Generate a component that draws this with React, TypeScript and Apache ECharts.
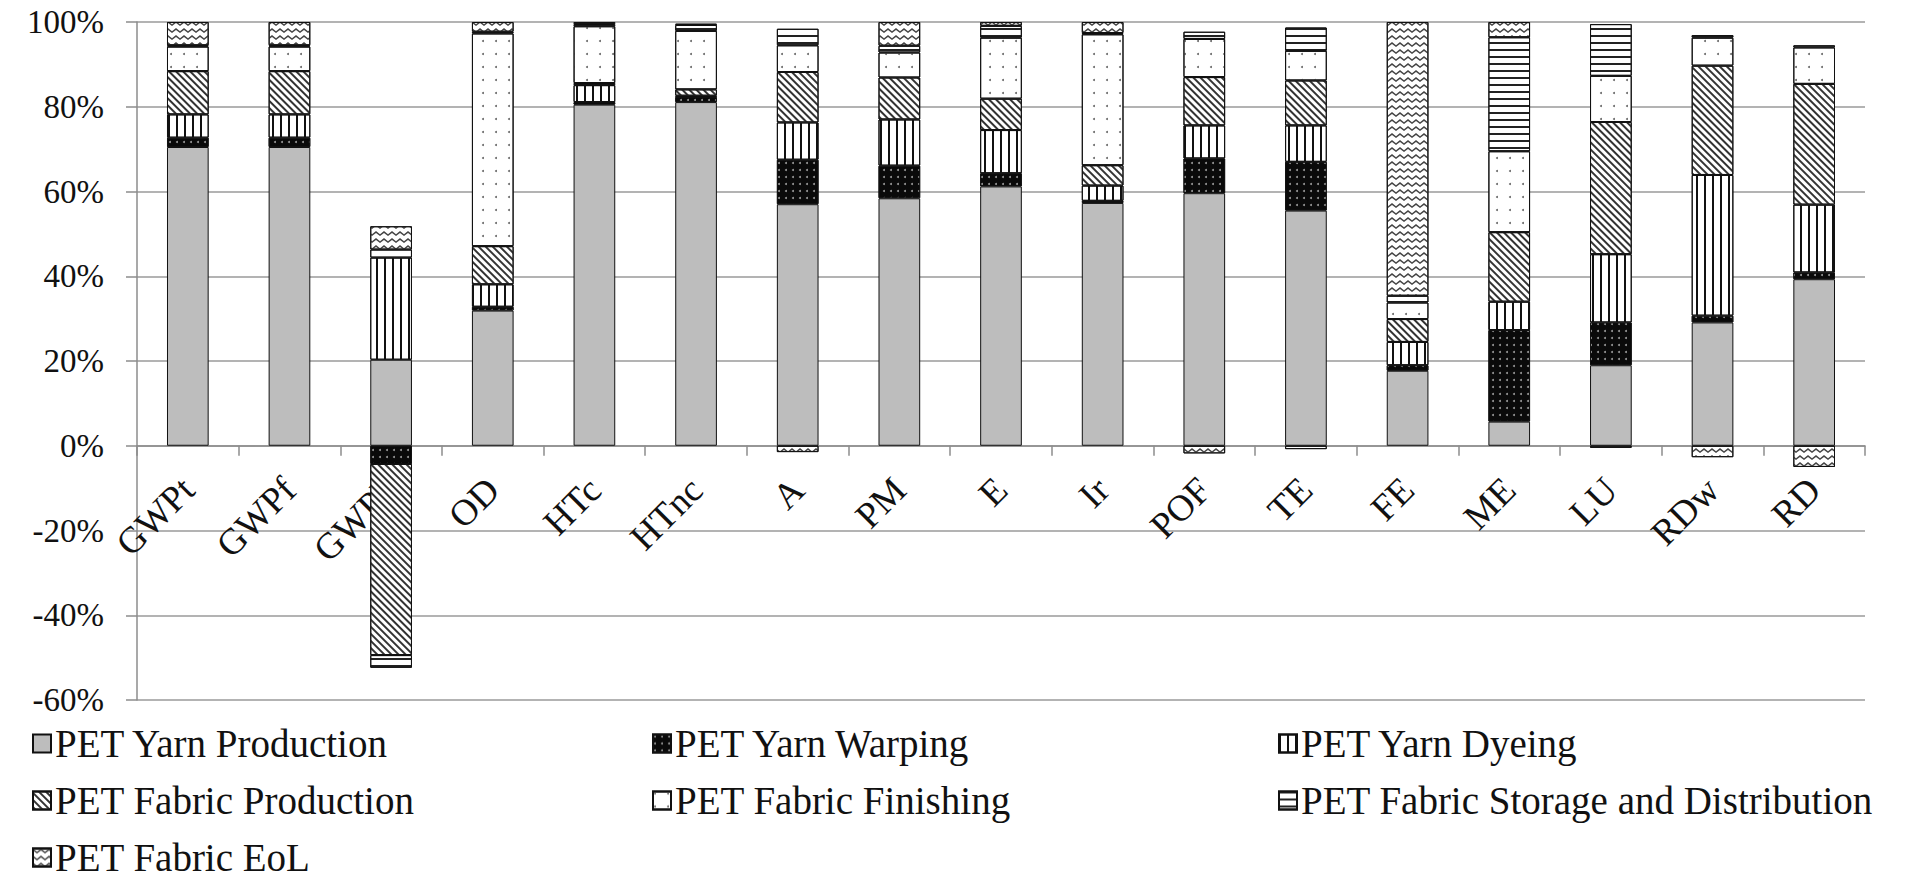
import React, { useEffect, useRef } from "react";
import * as echarts from "echarts";

const categories = ["GWPt", "GWPf", "GWPb", "OD", "HTc", "HTnc", "A", "PM", "E", "Ir", "POF", "TE", "FE", "ME", "LU", "RDw", "RD"];

const yarnProduction = [70.5, 70.5, 20.3, 31.9, 80.5, 81.1, 57.0, 58.4, 61.2, 57.3, 59.6, 55.5, 17.7, 5.7, 19.0, 29.1, 39.3];
const yarnWarping = [2.2, 2.2, -4.3, 0.9, 0.6, 1.2, 10.5, 7.7, 3.1, 0.5, 8.2, 11.5, 1.3, 21.6, 10.1, 1.6, 1.6];
const yarnDyeing = [5.5, 5.5, 24.1, 5.3, 4.0, 0.3, 8.8, 10.9, 10.2, 3.6, 7.8, 8.6, 5.5, 6.7, 16.1, 33.2, 16.0];
const fabricProduction = [10.2, 10.2, -45.1, 9.0, 0.5, 1.5, 11.9, 9.9, 7.4, 4.8, 11.4, 10.6, 5.4, 16.4, 31.2, 25.8, 28.5];
const fabricFinishing = [5.8, 5.8, 1.9, 50.2, 13.4, 13.8, 6.3, 5.9, 14.4, 30.9, 9.0, 7.0, 3.9, 19.1, 10.9, 6.6, 8.6];
const fabricStorage = [0.3, 0.3, -3.0, 0.4, 0.5, 1.4, 3.9, 1.6, 2.8, 0.3, 1.7, 5.5, 1.6, 26.9, 12.2, 0.6, 0.5];
const fabricEoL = [5.5, 5.5, 5.5, 2.3, 0.5, 0.3, -1.5, 5.6, 0.9, 2.6, -1.8, -0.8, 64.6, 3.6, -0.5, -2.7, -5.0];

const seriesNames = [
  "PET Yarn Production",
  "PET Yarn Warping",
  "PET Yarn Dyeing",
  "PET Fabric Production",
  "PET Fabric Finishing",
  "PET Fabric Storage and Distribution",
  "PET Fabric EoL",
];

const yTicks = { min: -60, max: 100, interval: 20 };

const FONT = "Liberation Serif";

function decal(o: any) {
  return {
    symbol: "rect",
    symbolSize: 1,
    symbolKeepAspect: false,
    rotation: 0,
    backgroundColor: null,
    ...o,
  };
}

export default function App() {
  const ref = useRef<HTMLDivElement>(null);

  useEffect(() => {
    if (!ref.current) return;
    const chart = echarts.init(ref.current, null, { renderer: "svg" });

    const datasets = [yarnProduction, yarnWarping, yarnDyeing, fabricProduction, fabricFinishing, fabricStorage, fabricEoL];

    const styles: any[] = [
      { color: "#bdbdbd", decal: null },
      {
        color: "#0a0a0a",
        decal: decal({ symbol: "circle", symbolSize: 0.5, symbolKeepAspect: true, color: "#9a9a9a", dashArrayX: [4, 3], dashArrayY: [4, 3] }),
      },
      {
        color: "#ffffff",
        decal: decal({ color: "#111", dashArrayX: [1.6, 6], dashArrayY: [4, 0] }),
      },
      {
        color: "#ffffff",
        decal: decal({ color: "#333", dashArrayX: [1, 0], dashArrayY: [1.3, 2.6], rotation: Math.PI / 4 }),
      },
      {
        color: "#ffffff",
        decal: decal({ symbol: "circle", symbolSize: 0.5, symbolKeepAspect: true, color: "#666", dashArrayX: [4, 9], dashArrayY: [4, 9] }),
      },
      {
        color: "#ffffff",
        decal: decal({ color: "#222", dashArrayX: [1, 0], dashArrayY: [1.6, 5] }),
      },
      {
        color: "#ffffff",
        decal: decal({
          symbol: "path://M0,0 L5,5 L10,0 L10,3 L5,8 L0,3 Z",
          color: "#444",
          dashArrayX: [8, 0],
          dashArrayY: [5, 2],
        }),
      },
    ];

    const series = seriesNames.map((name, i) => {
      const itemStyle: any = {
        color: styles[i].color,
        borderColor: "#111",
        borderWidth: 1,
      };
      if (styles[i].decal) itemStyle.decal = styles[i].decal;
      return {
        name,
        type: "bar",
        stack: "total",
        barWidth: "41%",
        data: datasets[i],
        itemStyle,
        emphasis: { disabled: true },
      };
    });

    const legendCommon = {
      orient: "vertical",
      top: 724,
      height: 300,
      width: 640,
      icon: "rect",
      itemWidth: 18,
      itemHeight: 18,
      itemGap: 18,
      padding: 0,
      selectedMode: false,
      textStyle: { fontFamily: FONT, fontSize: 39, lineHeight: 38, color: "#111", padding: [0, 0, 0, -1] },
    };

    const gridTop = 22;
    const gridBottom = 184;
    const plotH = 884 - gridTop - gridBottom;
    const zeroOffset = -plotH * (0 - yTicks.min) / (yTicks.max - yTicks.min);

    chart.setOption({
      animation: false,
      backgroundColor: "#ffffff",
      grid: { left: 137, right: 60, top: gridTop, bottom: gridBottom, containLabel: false },
      legend: [
        { ...legendCommon, left: 32, data: [seriesNames[0], seriesNames[3], seriesNames[6]] },
        { ...legendCommon, left: 652, data: [seriesNames[1], seriesNames[4]] },
        { ...legendCommon, left: 1278, data: [seriesNames[2], seriesNames[5]] },
      ],
      xAxis: {
        type: "category",
        data: categories,
        offset: zeroOffset,
        axisLine: { onZero: false, lineStyle: { color: "#8c8c8c", width: 1.5 } },
        axisTick: { show: true, length: 10, lineStyle: { color: "#8c8c8c", width: 1.5 } },
        axisLabel: {
          rotate: 45,
          margin: 38,
          interval: 0,
          fontFamily: FONT,
          fontSize: 37,
          color: "#111",
        },
        z: 0,
      },
      yAxis: {
        type: "value",
        min: yTicks.min,
        max: yTicks.max,
        interval: yTicks.interval,
        axisLine: { show: true, lineStyle: { color: "#8c8c8c", width: 1.5 } },
        axisTick: { show: true, length: 11, lineStyle: { color: "#8c8c8c", width: 1.5 } },
        splitLine: { show: true, lineStyle: { color: "#9a9a9a", width: 1.5 } },
        axisLabel: {
          formatter: "{value}%",
          margin: 33,
          fontFamily: FONT,
          fontSize: 33,
          color: "#111",
        },
      },
      series,
    });

    return () => chart.dispose();
  }, []);

  return (
    <div
      ref={ref}
      style={{ position: "fixed", left: 0, top: 0, width: 1925, height: 884, background: "#fff" }}
    />
  );
}
